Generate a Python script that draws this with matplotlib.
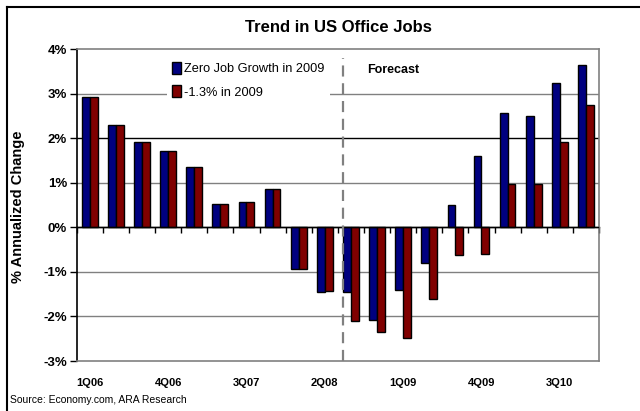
import matplotlib
matplotlib.use("Agg")
import matplotlib.pyplot as plt
import numpy as np
from matplotlib.lines import Line2D
from matplotlib.patches import Patch

plt.rcParams['font.family'] = ['Liberation Sans', 'DejaVu Sans']

quarters = ["1Q06", "2Q06", "3Q06", "4Q06", "1Q07", "2Q07", "3Q07", "4Q07",
            "1Q08", "2Q08", "3Q08", "4Q08", "1Q09", "2Q09", "3Q09", "4Q09",
            "1Q10", "2Q10", "3Q10", "4Q10"]
zero_growth = [2.92, 2.29, 1.91, 1.72, 1.36, 0.53, 0.56, 0.85,
               -0.93, -1.46, -1.46, -2.08, -1.40, -0.80, 0.51, 1.60,
               2.57, 2.50, 3.23, 3.64]
minus_1_3 = [2.92, 2.29, 1.91, 1.72, 1.36, 0.53, 0.56, 0.85,
             -0.93, -1.44, -2.10, -2.35, -2.49, -1.60, -0.63, -0.60,
             0.96, 0.96, 1.92, 2.74]
series_names = ["Zero Job Growth in 2009", "-1.3% in 2009"]
shown_labels = ["1Q06", "4Q06", "3Q07", "2Q08", "1Q09", "4Q09", "3Q10"]
y_ticks = [-3, -2, -1, 0, 1, 2, 3, 4]
forecast_start = "3Q08"

blue = "#000080"
red = "#800000"

fig = plt.figure(figsize=(6.4, 4.11), dpi=100)
ax = fig.add_axes([76.7/640, 1-361/411, (599-76.7)/640, (361-49)/411])

x = np.arange(len(quarters))
w = 0.3
ax.bar(x - w/2, zero_growth, w, color=blue, edgecolor="black", linewidth=1, zorder=3)
ax.bar(x + w/2, minus_1_3, w, color=red, edgecolor="black", linewidth=1, zorder=3)

ax.set_xlim(-0.5, len(quarters) - 0.5)
ax.set_ylim(-3, 4)

# gridlines
for v in y_ticks:
    if v in (-3, 4):
        continue
    col = "black" if v in (0, 2) else "#808080"
    ax.axhline(v, color=col, linewidth=1, zorder=1 if v != 0 else 4)

# spines
for s in ["top", "right", "bottom"]:
    ax.spines[s].set_color("#808080")
    ax.spines[s].set_linewidth(1.2)
ax.spines["left"].set_color("black")
ax.spines["left"].set_linewidth(1.2)

ax.set_yticks(y_ticks)
ax.set_yticklabels([f"{v}%" for v in y_ticks], fontsize=9.5, fontweight="bold")
ax.tick_params(axis="y", direction="out", length=5, width=1, pad=2, color="black")

ax.set_xticks([quarters.index(q) for q in shown_labels])
ax.set_xticklabels(shown_labels, fontsize=8, fontweight="bold")
ax.tick_params(axis="x", length=0, pad=12)

# category tick marks on zero line
sec = ax.secondary_xaxis((0 - (-3)) / 7)
sec.set_xticks(np.arange(len(quarters) + 1) - 0.5)
sec.set_xticklabels([])
sec.tick_params(direction="out", length=4, width=1, color="black")
sec.spines["bottom"].set_color("black")
sec.spines["bottom"].set_linewidth(1)

# forecast divider
fx = quarters.index(forecast_start) - 0.31
ax.plot([fx, fx], [-3, 3.8], color="#808080", linewidth=1.6, dashes=(5, 3), zorder=5)
ax.text(fx + 0.93, 3.53, "Forecast", fontsize=9, fontweight="bold", va="center", ha="left")

# legend
handles = [Patch(facecolor=blue, edgecolor="black"), Patch(facecolor=red, edgecolor="black")]
leg = ax.legend(handles, series_names, loc="upper left",
                bbox_to_anchor=((167-76.7)/522.3, (361-57)/312),
                frameon=True, fancybox=False, fontsize=9.2, handlelength=0.7,
                handleheight=1.0, handletextpad=0.25, borderpad=0.4, labelspacing=0.8,
                borderaxespad=0)
leg.get_frame().set_facecolor("white")
leg.get_frame().set_edgecolor("none")
leg.get_frame().set_alpha(1)
leg.set_zorder(6)

fig.text(338/640, 1-27/411, "Trend in US Office Jobs", fontsize=12, fontweight="bold",
         ha="center", va="center")
fig.text(18/640, 1-207/411, "% Annualized Change", fontsize=10.5, fontweight="bold",
         rotation=90, ha="center", va="center")
fig.text(10/640, 1-400/411, "Source: Economy.com, ARA Research", fontsize=7.5,
         ha="left", va="center")

# outer frame (left and top edges)
fig.add_artist(Line2D([7/640, 7/640], [0, 1-7/411], transform=fig.transFigure, color="black", linewidth=1.5))
fig.add_artist(Line2D([7/640, 1], [1-7/411, 1-7/411], transform=fig.transFigure, color="black", linewidth=1.5))

fig.savefig("out.png", dpi=100)
